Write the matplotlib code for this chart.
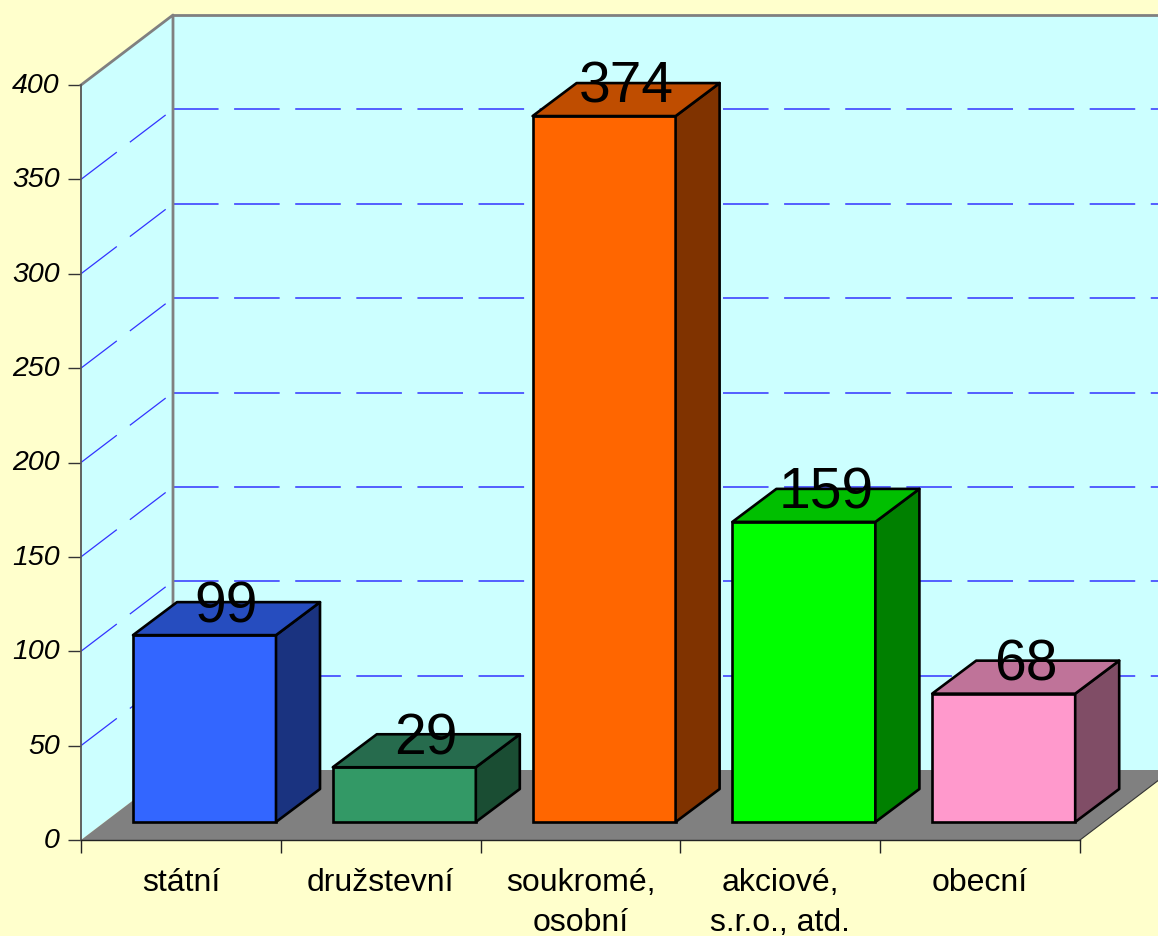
import matplotlib
matplotlib.use("Agg")
import matplotlib.pyplot as plt
from matplotlib.patches import Polygon
from matplotlib.transforms import ScaledTranslation

categories = ["státní", "družstevní", "soukromé,\nosobní", "akciové,\ns.r.o., atd.", "obecní"]
values = [99, 29, 374, 159, 68]
front_colors = ["#3366FF", "#339966", "#FF6600", "#00FF00", "#FF99CC"]
side_colors = ["#1A3380", "#1A4D33", "#803300", "#008000", "#804D66"]
top_colors = ["#264DBF", "#266B4D", "#BF4D00", "#00BF00", "#BF7399"]
y_ticks = [0, 50, 100, 150, 200, 250, 300, 350, 400]

W, H = 1158, 936
BG, WALL, FLOOR, GRID, EDGE = "#FFFFCC", "#CCFFFF", "#808080", "#3333FF", "#808080"
PX_X, PX_Y = 199.8, 1.8875          # pixels per category / per value
L, B, T = 81, 840, 15               # plot area in pixels

plt.rcParams["font.family"] = ["Liberation Sans", "DejaVu Sans"]
fig = plt.figure(figsize=(W / 100, H / 100), dpi=100, facecolor=BG)
ax = fig.add_axes([L / W, (H - B) / H, (W - L) / W, (B - T) / H], facecolor="none")
ax.set_xlim(0, (W - L) / PX_X)
ax.set_ylim(0, (B - T) / PX_Y)

wx, wy = 92 / PX_X, 70 / PX_Y       # wall depth
bx, by = 44 / PX_X, 33 / PX_Y       # bar depth
x0, y0 = 52 / PX_X, 18 / PX_Y       # bar front offset on the floor
bw = 143 / PX_X
ymax, n = max(y_ticks), len(categories)
xfar = n + wx


def poly(pts, **kw):
    ax.add_patch(Polygon(pts, closed=True, clip_on=False, **kw))


# back wall, left wall, floor
poly([(wx, wy), (wx, ymax + wy), (xfar, ymax + wy), (xfar, wy)], fc=WALL, ec="none", zorder=1)
poly([(0, 0), (0, ymax), (wx, ymax + wy), (wx, wy)], fc=WALL, ec="none", zorder=1)
poly([(0, 0), (wx, wy), (n + wx, wy), (n, 0)], fc=FLOOR, ec="none", zorder=2)

# gridlines
lw_back, lw_side = 1.1, 0.9
dash_back = (0, (32.8 / lw_back, 11.2 / lw_back))
dash_side = (0, (32.4 / lw_side, 11.8 / lw_side))
for t in y_ticks[1:]:
    ax.plot([wx, xfar], [t + wy, t + wy], color=GRID, lw=lw_back, ls=dash_back, zorder=1.5, clip_on=True)
    if t < ymax:
        ax.plot([0, wx], [t, t + wy], color=GRID, lw=lw_side, ls=dash_side, zorder=1.5)

# wall outlines
ax.plot([0, wx, wx], [ymax, ymax + wy, wy], color=EDGE, lw=2, zorder=3, clip_on=False)
ax.plot([wx, xfar], [ymax + wy, ymax + wy], color=EDGE, lw=2, zorder=3, clip_on=False)
ax.plot([n, n + wx], [0, wy], color="#333333", lw=0.8, zorder=3, clip_on=False)

# bars
for i, (v, cf, cs, ct) in enumerate(zip(values, front_colors, side_colors, top_colors)):
    xl, xr = i + x0, i + x0 + bw
    yb, yt = y0, y0 + v
    z = 4 + i
    ax.bar(xl, v, width=bw, bottom=y0, align="edge", color=cf, ec="black", lw=1.9, zorder=z)
    poly([(xr, yb), (xr + bx, yb + by), (xr + bx, yt + by), (xr, yt)], fc=cs, ec="black", lw=1.9, zorder=z, joinstyle="round")
    poly([(xl, yt), (xl + bx, yt + by), (xr + bx, yt + by), (xr, yt)], fc=ct, ec="black", lw=1.9, zorder=z, joinstyle="round")
    ax.text((xl + xr + bx) / 2, yt + by + 0.6, str(v), ha="center", va="center_baseline", fontsize=41, color="black", zorder=20)

# axes
for s in ("top", "right"):
    ax.spines[s].set_visible(False)
ax.spines["left"].set_bounds(0, ymax)
ax.spines["bottom"].set_bounds(0, n)
ax.spines["left"].set_color("#555555")
ax.spines["bottom"].set_color("#222222")
ax.spines["left"].set_linewidth(1.3)
ax.spines["bottom"].set_linewidth(1)
for sp in ax.spines.values():
    sp.set_zorder(3.5)
ax.set_yticks(y_ticks)
ax.set_yticklabels([str(t) for t in y_ticks], fontsize=20.5, style="italic", color="black")
ax.tick_params(axis="y", length=9.4, width=1, color="#333333", pad=6)
shift = ScaledTranslation(0, 1.5 / 72, fig.dpi_scale_trans)
for lab in ax.get_yticklabels():
    lab.set_transform(lab.get_transform() + shift)
ax.set_xticks(range(n + 1))
ax.set_xticklabels([""] * (n + 1))
ax.tick_params(axis="x", which="major", length=9.4, width=1, color="#222222")
ax.set_xticks([i + 0.5 for i in range(n)], minor=True)
ax.set_xticklabels(categories, minor=True, fontsize=23, linespacing=1.42, color="black")
ax.tick_params(axis="x", which="minor", length=0, pad=20.5)

fig.savefig("out.png", dpi=100, facecolor=BG)
